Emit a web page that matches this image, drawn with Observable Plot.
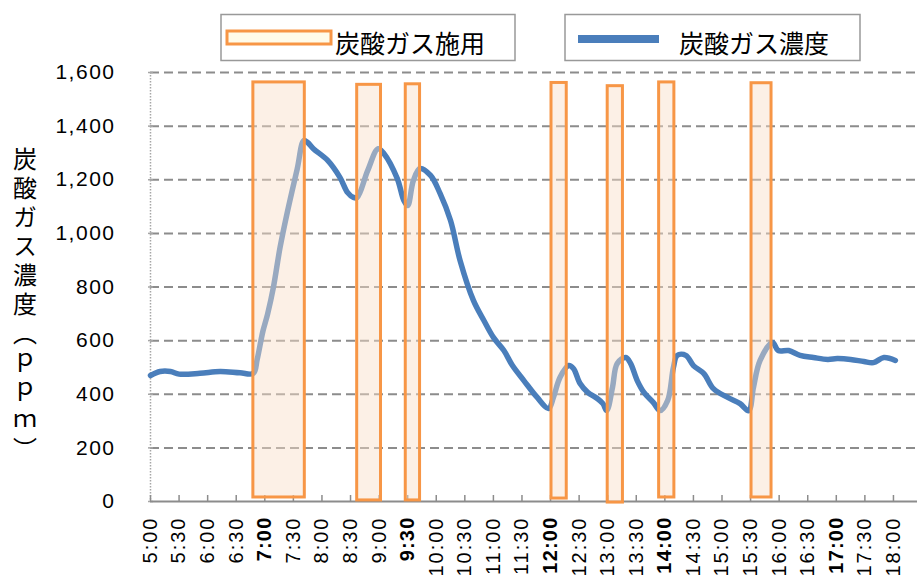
<!DOCTYPE html>
<html><head><meta charset="utf-8">
<script src="https://cdn.jsdelivr.net/npm/d3@7"></script>
<script src="https://cdn.jsdelivr.net/npm/@observablehq/plot@0.6"></script>
<style>
html,body{margin:0;padding:0;background:#fff;}
#chart svg{display:block;}
</style>
</head><body><div id="chart"></div>
<script>
// ---- data ----
const co2Times = ["5:00","5:10","5:21","5:30","5:52","6:13","6:34","6:48","6:52","6:58","7:03","7:09","7:16","7:24","7:34","7:41","7:45","7:51","8:06","8:19","8:27","8:33","8:37","8:48","8:59","9:05","9:19","9:26","9:30","9:36","9:43","9:54","10:04","10:15","10:25","10:39","10:50","11:00","11:11","11:20","11:32","11:46","11:58","12:03","12:10","12:19","12:24","12:31","12:39","12:49","12:55","12:59","13:05","13:10","13:19","13:24","13:31","13:38","13:48","13:55","14:03","14:09","14:13","14:22","14:30","14:41","14:51","15:06","15:19","15:28","15:33","15:40","15:53","15:59","16:10","16:22","16:36","16:51","17:01","17:15","17:29","17:39","17:50","18:02"];
const co2Values = [470,485,485,475,478,485,480,478,530,635,700,798,947,1085,1240,1346,1339,1316,1272,1208,1152,1134,1134,1234,1316,1298,1205,1123,1104,1197,1242,1216,1149,1048,899,750,675,612,563,507,451,388,347,388,463,507,496,440,407,384,365,339,425,515,537,515,451,407,369,339,377,500,545,545,507,477,421,388,365,339,425,526,593,563,563,545,537,530,533,530,522,518,537,526];

const applyStart = ["6:48","8:37","9:28","12:01","13:00","13:54","15:31"];
const applyEnd = ["7:42","9:02","9:43","12:17","13:16","14:10","15:52"];
const applyTop = [1563,1554,1556,1561,1549,1563,1560];
const applyBottom = [15,4,4,11,-4,15,15];

const yTicks = [0,200,400,600,800,1000,1200,1400,1600];
const yTickLabels = ["0","200","400","600","800","1,000","1,200","1,400","1,600"];
const xTickLabels = ["5:00","5:30","6:00","6:30","7:00","7:30","8:00","8:30","9:00","9:30","10:00","10:30","11:00","11:30","12:00","12:30","13:00","13:30","14:00","14:30","15:00","15:30","16:00","16:30","17:00","17:30","18:00"];
const boldXTickLabels = ["7:00","9:30","12:00","14:00","17:00"];
const seriesNames = ["炭酸ガス施用","炭酸ガス濃度"];
const yTitle = "炭酸ガス濃度（ｐｐｍ）";

// ---- build ----
const toH = s => { const [h,m] = s.split(":").map(Number); return h + m/60; };
const lineData = co2Times.map((t,i)=>({x:toH(t), y:co2Values[i]}));
const bars = applyStart.map((s,i)=>({x1:toH(s), x2:toH(applyEnd[i]), y1:applyBottom[i], y2:applyTop[i]}));
const xTicks = xTickLabels.map(toH);

const W = 917, H = 580, mL = 150, mR = 0, mT = 72, mB = 79;
const frameH = H - mT - mB;
const JP = "'Noto Sans CJK JP', 'Noto Sans', sans-serif";

const plot = Plot.plot({
  width: W, height: H,
  marginLeft: mL, marginRight: mR, marginTop: mT, marginBottom: mB,
  x: {domain: [5, 5 + (W - mL)/57.15], axis: null},
  y: {domain: [0, 1600], axis: null},
  style: {fontFamily: "'Liberation Sans', Arial, sans-serif", background: "#fff", overflow: "visible"},
  marks: [
    Plot.ruleY(yTicks.filter(d => d > 0), {y: d => d, stroke: "#8c8c8c", strokeWidth: 2, strokeDasharray: "9,5"}),
    Plot.ruleX([5], {x: d => d, stroke: "#a6a6a6", strokeWidth: 1.5, strokeDasharray: "1.5,1.5"}),
    Plot.ruleY(yTicks, {y: d => d, stroke: "#a6a6a6", strokeWidth: 1.5, insetLeft: -2, insetRight: W - mL - mR - 3}),
    Plot.ruleY([0], {y: d => d, stroke: "#8c8c8c", strokeWidth: 2}),
    Plot.ruleX(xTicks, {x: d => d, stroke: "#8c8c8c", strokeWidth: 1.5, insetTop: frameH - 6}),
    Plot.line(lineData, {x: "x", y: "y", stroke: "#4a7ebb", strokeWidth: 5.5, curve: "catmull-rom", strokeLinecap: "round", strokeLinejoin: "round"}),
    Plot.rect(bars, {x1: "x1", x2: "x2", y1: "y1", y2: "y2", fill: "#f8ddc7", fillOpacity: 0.45, stroke: "#f79646", strokeWidth: 3}),
    Plot.text(yTicks, {y: d => d, frameAnchor: "left", text: (d, i) => yTickLabels[i], textAnchor: "end", dx: -35, fontSize: 21, fill: "#000"}),
    Plot.text(xTickLabels.filter(d => !boldXTickLabels.includes(d)), {x: toH, frameAnchor: "bottom", text: d => d, rotate: -90, textAnchor: "end", lineAnchor: "middle", dy: 15, fontSize: 20, fill: "#000", className: "xlab"}),
    Plot.text(xTickLabels.filter(d => boldXTickLabels.includes(d)), {x: toH, frameAnchor: "bottom", text: d => d, rotate: -90, textAnchor: "end", lineAnchor: "middle", dy: 15, fontSize: 20, fontWeight: "bold", fill: "#000", className: "xlabb"})
  ]
});

const svg = d3.select(plot);
svg.selectAll("text").style("letter-spacing", "1.5px");
svg.selectAll(".xlab text").style("letter-spacing", "2px");
svg.selectAll(".xlabb text").style("letter-spacing", "1.2px");

// legend
const lg = svg.append("g").attr("text-anchor", "start");
lg.append("rect").attr("x", 221).attr("y", 14.5).attr("width", 294).attr("height", 46)
  .attr("fill", "#fff").attr("stroke", "#999").attr("stroke-width", 1.5);
lg.append("rect").attr("x", 227).attr("y", 31).attr("width", 104).attr("height", 13)
  .attr("fill", "#fffbea").attr("stroke", "#f79646").attr("stroke-width", 3);
lg.append("text").attr("x", 335).attr("y", 42).attr("dominant-baseline", "central").attr("text-anchor", "start")
  .style("font-family", JP).style("font-size", "25px").attr("fill", "#000").text(seriesNames[0]);
lg.append("rect").attr("x", 565).attr("y", 14.5).attr("width", 295).attr("height", 46)
  .attr("fill", "#fff").attr("stroke", "#999").attr("stroke-width", 1.5);
lg.append("line").attr("x1", 578).attr("x2", 659).attr("y1", 39).attr("y2", 39)
  .attr("stroke", "#4a7ebb").attr("stroke-width", 8);
lg.append("text").attr("x", 679).attr("y", 42).attr("dominant-baseline", "central").attr("text-anchor", "start")
  .style("font-family", JP).style("font-size", "25px").attr("fill", "#000").text(seriesNames[1]);

// y title (vertical writing)
svg.append("text").attr("x", 25).attr("y", 147).attr("text-anchor", "start")
  .style("writing-mode", "vertical-rl").style("font-family", JP).style("font-size", "24px")
  .style("letter-spacing", "5px").attr("fill", "#000").text(yTitle);

document.getElementById("chart").appendChild(plot);
</script>
</body></html>
